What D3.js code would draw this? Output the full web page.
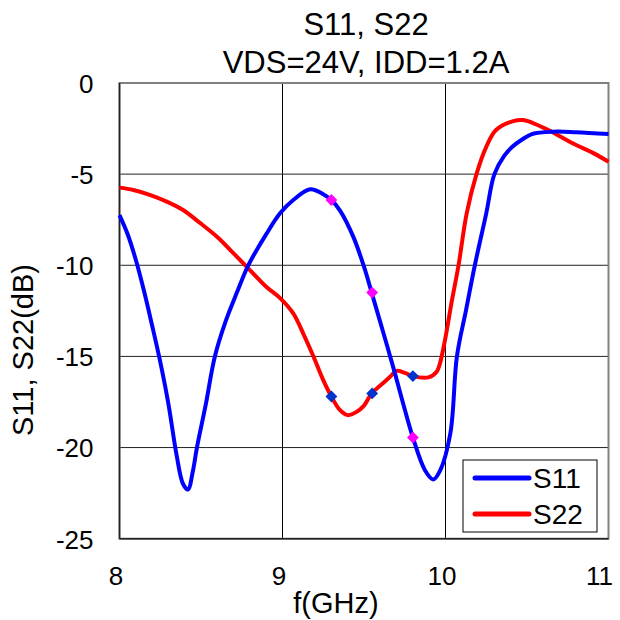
<!DOCTYPE html>
<html><head><meta charset="utf-8">
<script src="https://cdn.jsdelivr.net/npm/d3@7"></script>
<style>body{margin:0;background:#fff}svg text{font-family:"Liberation Sans",Arial,sans-serif;fill:#000}</style>
</head><body><svg id="c" width="620" height="620"></svg>
<script>
const titleLines = ["S11, S22", "VDS=24V, IDD=1.2A"];
const xLabel = "f(GHz)";
const yLabel = "S11, S22(dB)";
const xTicks = [8, 9, 10, 11];
const yTicks = [0, -5, -10, -15, -20, -25];
const s11Freq = [8.00,8.05,8.10,8.15,8.20,8.25,8.30,8.35,8.39,8.42,8.45,8.475,8.53,8.585,8.65,8.72,8.79,8.90,8.985,9.066,9.17,9.25,9.30,9.353,9.434,9.50,9.547,9.62,9.69,9.74,9.80,9.874,9.925,9.966,10.03,10.07,10.126,10.18,10.25,10.30,10.36,10.41,10.47,10.53,10.66,10.8,11.0];
const s11Val  = [-7.25,-8.3,-9.7,-11.4,-13.3,-15.3,-17.6,-20.4,-22.0,-22.3,-21.3,-20.0,-17.6,-15.0,-13.1,-11.5,-10.0,-8.3,-7.15,-6.42,-5.83,-6.1,-6.42,-7.0,-8.43,-10.08,-11.5,-13.74,-15.93,-17.58,-19.45,-21.24,-21.75,-21.28,-19.2,-15.0,-12.46,-10.0,-7.15,-5.0,-4.0,-3.5,-3.1,-2.8,-2.67,-2.7,-2.8];
const s22Freq = [8.00,8.085,8.19,8.29,8.39,8.49,8.60,8.70,8.79,8.90,8.985,9.066,9.13,9.19,9.25,9.30,9.353,9.40,9.455,9.50,9.547,9.60,9.66,9.70,9.75,9.80,9.895,9.946,9.966,9.997,10.04,10.08,10.13,10.19,10.25,10.31,10.416,10.477,10.54,10.64,10.78,10.91,11.0];
const s22Val  = [-5.74,-5.87,-6.15,-6.51,-6.97,-7.65,-8.45,-9.35,-10.17,-11.18,-11.8,-12.64,-13.8,-15.0,-16.3,-17.2,-17.95,-18.22,-18.04,-17.7,-17.03,-16.6,-16.12,-15.79,-15.9,-16.08,-16.15,-15.84,-15.38,-14.1,-11.9,-10.0,-7.15,-5.0,-3.5,-2.58,-2.09,-2.03,-2.21,-2.62,-3.31,-3.86,-4.32];
const markerFreq = [9.3, 9.55, 9.8];
const s11Markers = [-6.42, -11.5, -19.45];
const s22Markers = [-17.2, -17.03, -16.08];
const seriesNames = ["S11", "S22"];

const svg = d3.select("#c");
const L = 119.5, R = 608.5, T = 83, B = 538.7;
const x = d3.scaleLinear().domain([8, 11]).range([L, R]);
const y = d3.scaleLinear().domain([-25, 0]).range([B, T]);
const FONT = "Liberation Sans, Arial, sans-serif";

// grid
svg.append("g").selectAll("line").data(xTicks.slice(1, -1)).join("line")
  .attr("x1", d => x(d)).attr("x2", d => x(d)).attr("y1", T).attr("y2", B)
  .attr("stroke", "#000").attr("stroke-width", 1);
svg.append("g").selectAll("line").data(yTicks.slice(1, -1)).join("line")
  .attr("x1", L).attr("x2", R).attr("y1", d => y(d)).attr("y2", d => y(d))
  .attr("stroke", "#222").attr("stroke-width", 1);
// frame
svg.append("rect").attr("x", L).attr("y", T).attr("width", R - L).attr("height", B - T)
  .attr("fill", "none").attr("stroke", "#808080").attr("stroke-width", 2);
svg.append("line").attr("x1", L).attr("x2", L).attr("y1", T).attr("y2", B).attr("stroke", "#222").attr("stroke-width", 1.5);
svg.append("line").attr("x1", L).attr("x2", R).attr("y1", B).attr("y2", B).attr("stroke", "#222").attr("stroke-width", 1.5);

// tick labels
const xa = svg.append("g").attr("transform", `translate(0,${B})`)
  .call(d3.axisBottom(x).tickValues(xTicks).tickSize(0).tickPadding(0).tickFormat(d => String(d)));
xa.select(".domain").remove();
xa.selectAll("text").attr("font-size", 26).attr("dy", null).attr("y", 46).attr("x", -4)
  .style("font-family", FONT);
xa.selectAll("text").filter(d => d === xTicks[xTicks.length - 1]).attr("text-anchor", "end").attr("x", 4);
const ya = svg.append("g").attr("transform", `translate(${L},0)`)
  .call(d3.axisLeft(y).tickValues(yTicks).tickSize(0).tickPadding(0).tickFormat(d => String(d)));
ya.select(".domain").remove();
ya.selectAll("text").attr("font-size", 26).attr("x", -26).attr("dy", "0.36em")
  .style("font-family", FONT);

// lines
const line = d3.line().x(d => x(d[0])).y(d => y(d[1])).curve(d3.curveCatmullRom.alpha(0.5));
const s11 = s11Freq.map((f, i) => [f, s11Val[i]]);
const s22 = s22Freq.map((f, i) => [f, s22Val[i]]);
svg.append("path").datum(s22).attr("d", line).attr("fill", "none").attr("stroke", "#ff0000").attr("stroke-width", 4).attr("stroke-linejoin", "round");
svg.append("path").datum(s11).attr("d", line).attr("fill", "none").attr("stroke", "#0000ff").attr("stroke-width", 4).attr("stroke-linejoin", "round");

// markers (diamonds)
const sq = d3.symbol().type(d3.symbolSquare).size(70);
svg.append("g").selectAll("path").data(markerFreq.map((f, i) => [f, s11Markers[i]])).join("path")
  .attr("d", sq).attr("transform", d => `translate(${x(d[0])},${y(d[1])}) rotate(45)`).attr("fill", "#ff00ff");
svg.append("g").selectAll("path").data(markerFreq.map((f, i) => [f, s22Markers[i]])).join("path")
  .attr("d", sq).attr("transform", d => `translate(${x(d[0])},${y(d[1])}) rotate(45)`).attr("fill", "#0033cc");

// titles
svg.append("text").attr("x", 366).attr("y", 35).attr("text-anchor", "middle").attr("font-size", 31).text(titleLines[0]);
svg.append("text").attr("x", 366).attr("y", 73).attr("text-anchor", "middle").attr("font-size", 31).text(titleLines[1]);
svg.append("text").attr("x", 336).attr("y", 613).attr("text-anchor", "middle").attr("font-size", 29).text(xLabel);
svg.append("text").attr("transform", "translate(33,350) rotate(-90)").attr("text-anchor", "middle").attr("font-size", 29).text(yLabel);

// legend
const lx = 463, ly = 460, lw = 134, lh = 72;
svg.append("rect").attr("x", lx).attr("y", ly).attr("width", lw).attr("height", lh).attr("fill", "#fff").attr("stroke", "#000").attr("stroke-width", 1);
const colors = ["#0000ff", "#ff0000"];
seriesNames.forEach((n, i) => {
  const yy = ly + 18 + i * 36;
  svg.append("line").attr("x1", lx + 12).attr("x2", lx + 66).attr("y1", yy).attr("y2", yy)
    .attr("stroke", colors[i]).attr("stroke-width", 5).attr("stroke-linecap", "round");
  svg.append("text").attr("x", lx + 70).attr("y", yy + 10).attr("font-size", 28).text(n);
});
</script></body></html>
